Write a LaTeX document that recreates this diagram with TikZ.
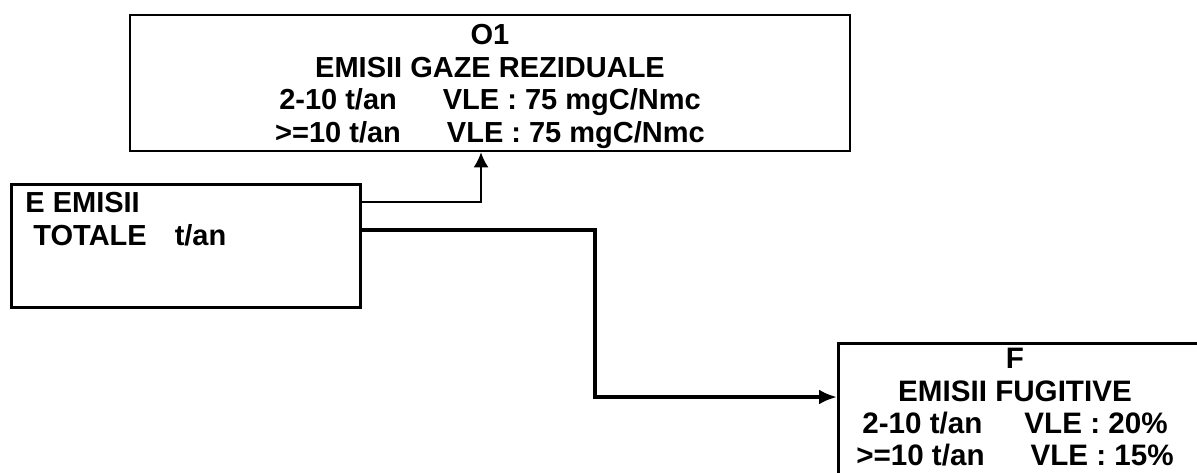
\documentclass[tikz,border=0pt]{standalone}
\usepackage{fontspec}
\setmainfont{Liberation Sans}
\usetikzlibrary{arrows.meta, positioning, calc}
\tikzset{
    block/.style = {rectangle, draw, line width=1.3pt, inner sep=0pt},
    boxtext/.style = {font=\fontsize{14.5}{16.3}\selectfont\bfseries, align=center, inner sep=0pt},
    bigtext/.style = {boxtext, font=\fontsize{14.8}{16.2}\selectfont\bfseries},
    line/.style = {draw, line width=1pt, -{Latex[length=7.5pt,width=7.5pt]}},
    thickline/.style = {draw, line width=2pt, -{Latex[length=9pt,width=7.5pt]}}
}

\begin{document}
\begin{tikzpicture}[x=0.5pt, y=-0.5pt]
        \clip (0,0) rectangle (1197,472);

        % Boxes
        \node [block, minimum width=360pt, minimum height=68pt] (o1) at (490,83) {};
        \node [boxtext, anchor=north] (o1text) at (490,24)
            {O1\\EMISII GAZE REZIDUALE\\2-10 t/an\hspace{23pt}VLE : 75 mgC/Nmc\\>=10 t/an\hspace{23pt}VLE : 75 mgC/Nmc};
        \node [block, minimum width=174.5pt, minimum height=61.5pt, anchor=north west] (etot) at (10,183) {};
        \node [boxtext, align=left, anchor=north west] (etottext) at ($(etot.north west)+(15,9)$)
            {E EMISII\\\ TOTALE\hspace{14pt}t/an};
        \node [block, minimum width=250pt, minimum height=100pt, anchor=north west] (fbox) at (837,342) {};
        \node [bigtext, anchor=north] (ftext) at (1015,348)
            {F\\EMISII FUGITIVE\\2-10 t/an\hspace{21pt}VLE : 20\%\\>=10 t/an\hspace{23pt}VLE : 15\%};

        % Edges
        \coordinate (tap1) at ($(etot.north east)+(0,19)$);
        \coordinate (tap2) at ($(etot.north east)+(0,47)$);
        \coordinate (knee) at (595,397);
        \path [line] (tap1) -| (o1.south -| 481,0);
        \path [thickline] (tap2) -| (knee) -- (fbox.west |- knee);

    \end{tikzpicture}
\end{document}
